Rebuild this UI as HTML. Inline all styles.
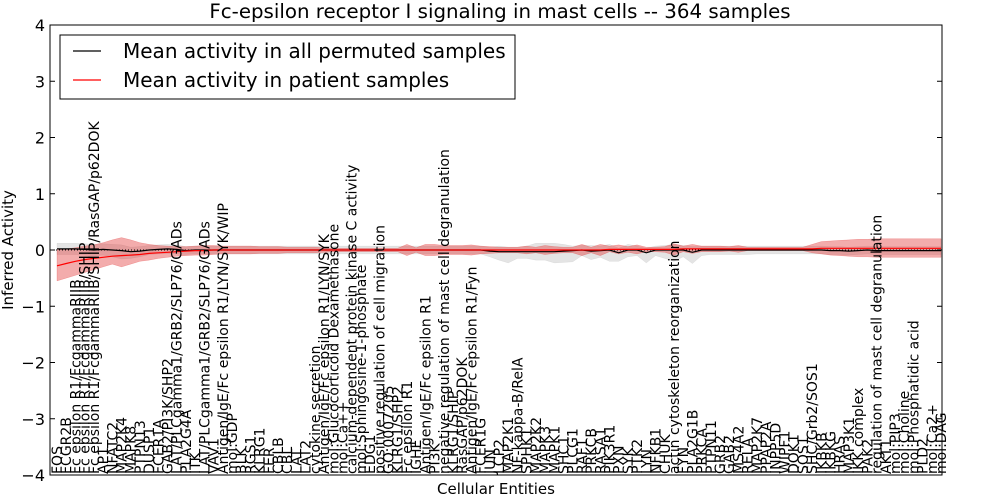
<!DOCTYPE html>
<html><head><meta charset="utf-8"><style>
body{margin:0;background:#fff;}
svg{display:block;font-family:"DejaVu Sans","Liberation Sans",sans-serif;}
</style></head><body>
<svg id="chart" width="1000" height="500">
<text x="500" y="18" text-anchor="middle" font-size="19.8">Fc-epsilon receptor I signaling in mast cells -- 364 samples</text>
<g id="bands"></g>
<g id="lines"></g>
<g id="axes"></g>
<rect x="50" y="25" width="892" height="450" fill="none" stroke="#000" stroke-width="1"/>
<text transform="translate(13,250) rotate(-90)" text-anchor="middle" font-size="15">Inferred Activity</text>
<text x="496" y="494" text-anchor="middle" font-size="15">Cellular Entities</text>
<g>
<rect x="60" y="35" width="455" height="64" fill="#fff" stroke="#000" stroke-width="1"/>
<line x1="73" y1="51" x2="101" y2="51" stroke="#000" stroke-width="1.2"/>
<text x="123" y="58" font-size="20">Mean activity in all permuted samples</text>
<line x1="73" y1="80" x2="101" y2="80" stroke="#f00" stroke-width="1.2"/>
<text x="123" y="87" font-size="20">Mean activity in patient samples</text>
</g>
</svg>
<script>
const categories=["FOS","FCGR2B","Fc epsilon R1/FcgammaRIIB","Fc epsilon R1/FcgammaRIIB/SHIP","Fc epsilon R1/FcgammaRIIB/SHIP/RasGAP/p62DOK","AP1","NFATC2","MAP2K4","MAPK8","PTPN13","DUSP1","FCER1A","GAB2/PI3K/SHP2","LAT/PLCgamma1/GRB2/SLP76/GADs","PLA2G4A","ITK","LAT/PLCgamma1/GRB2/SLP76/GADs","VAV1","Antigen/IgE/Fc epsilon R1/LYN/SYK/WIP","mol:GDP","BLK","RGS1","KLRG1","FER","CBLB","CBL","LAT","LAT2","cytokine secretion","Antigen/IgE/Fc epsilon R1/LYN/SYK","mol:Glucocorticoid Dexamethasone","mol:Ca++","calcium-dependent protein kinase C activity","mol:Sphingosine-1-phosphate","EDG1","positive regulation of cell migration","GO:0007205","KLRG1/SHP2","Fc epsilon R1","IGHE","Antigen/IgE/Fc epsilon R1","PI3K","negative regulation of mast cell degranulation","KLRG1/SHIP","RasGAP/p62DOK","Antigen/IgE/Fc epsilon R1/Fyn","FCER1G","JUN","LCP2","MAP2K1","NF-kappa-B/RelA","SPHK1","MAP2K2","MAPK3","MAPK1","SHC1","PLCG1","RAF1","PRKCB","RASA1","PIK3R1","PXN","SYK","PTK2","LYN","NFKB1","CHUK","actin cytoskeleton reorganization","FYN","PLA2G1B","PRKCA","PTPN11","GRB2","GAB2","MS4A2","RELA","MAP2K7","PPAP2A","INPP5D","WIPF1","DOK1","SOS1","SHC/Grb2/SOS1","IKBKB","IKBKG","HRAS","MAP3K1","IKK complex","PAK2","regulation of mast cell degranulation","AKT1","mol:PIP3","mol:Choline","mol:Phosphatidic acid","PLD2","mol:Ca2+","mol:DAG"];
const yTicks=[4,3,2,1,0,-1,-2,-3,-4];
const redMean=[-0.28,-0.24,-0.2,-0.17,-0.15,-0.13,-0.11,-0.1,-0.09,-0.08,
-0.06,-0.05,-0.04,-0.03,-0.02,-0.01,-0.01,0,0,0,
0,0,0,0,0,0,0,0,0,0,
0,0,0,0,0,0,0,0,0,0,
0,0,0,0,0,0,0,0,0,0,
0,0,0,0,0,0,0,0,0,0,
0.01,0.01,0.01,0.01,0.01,0.01,0.01,0.01,0.02,0.02,
0.02,0.02,0.02,0.02,0.02,0.02,0.02,0.02,0.02,0.02,
0.02,0.02,0.02,0.03,0.03,0.03,0.03,0.03,0.03,0.03,
0.03,0.03,0.03,0.03,0.03,0.03,0.03];
const redHi=[0.28,0.26,0.24,0.24,0.24,0.26,0.29,0.32,0.27,0.21,
0.16,0.13,0.11,0.09,0.08,0.08,0.09,0.08,0.07,0.07,
0.07,0.07,0.06,0.06,0.06,0.05,0.05,0.05,0.05,0.04,
0.03,0.03,0.03,0.03,0.03,0.03,0.03,0.03,0.1,0.04,
0.1,0.1,0.08,0.08,0.08,0.09,0.07,0.06,0.05,0.05,
0.05,0.07,0.05,0.08,0.06,0.05,0.05,0.1,0.05,0.1,
0.06,0.08,0.05,0.08,0.04,0.04,0.05,0.1,0.05,0.08,
0.05,0.05,0.05,0.04,0.06,0.03,0.03,0.03,0.03,0.03,
0.03,0.03,0.08,0.12,0.13,0.14,0.15,0.16,0.16,0.17,
0.17,0.17,0.17,0.17,0.17,0.17,0.17];
const redLo=[-0.27,-0.26,-0.25,-0.23,-0.2,-0.17,-0.14,-0.2,-0.16,-0.12,
-0.12,-0.1,-0.09,-0.08,-0.08,-0.08,-0.08,-0.08,-0.07,-0.07,
-0.07,-0.07,-0.06,-0.06,-0.06,-0.05,-0.05,-0.05,-0.05,-0.04,
-0.03,-0.03,-0.03,-0.03,-0.03,-0.03,-0.03,-0.03,-0.1,-0.04,
-0.1,-0.1,-0.08,-0.08,-0.08,-0.09,-0.07,-0.06,-0.05,-0.05,
-0.05,-0.07,-0.05,-0.08,-0.06,-0.05,-0.05,-0.1,-0.05,-0.1,
-0.04,-0.08,-0.05,-0.08,-0.04,-0.04,-0.05,-0.1,-0.05,-0.08,
-0.05,-0.05,-0.05,-0.04,-0.06,-0.03,-0.03,-0.03,-0.03,-0.03,
-0.03,-0.03,-0.07,-0.1,-0.12,-0.13,-0.14,-0.15,-0.15,-0.16,
-0.16,-0.16,-0.16,-0.16,-0.16,-0.16,-0.16];
const blackMean=[0.02,0.02,0.02,0.01,0,0.01,0,-0.01,-0.03,-0.02,
0,0.01,0.02,0.01,-0.01,0,0,0,0,0,
0,0,0,0,0,0,0,0,0,0,
0,0,0,0,0,0,0,0,0,0,
0,0,0,0,0,0,0,-0.02,-0.03,-0.03,
-0.03,-0.03,-0.03,-0.03,-0.03,-0.02,-0.01,0,-0.02,-0.01,
0,-0.05,0,0,-0.05,0,0,0,0,-0.04,
0,0,0,0,0,0,0,0,0,0,
0,0,0,0,-0.01,-0.01,-0.02,-0.01,0,-0.01,
-0.01,-0.01,-0.01,-0.01,-0.01,-0.01,-0.01];
const greyHi=[0.1,0.1,0.1,0.1,0.1,0.1,0.1,0.1,0.08,0.08,
0.08,0.08,0.08,0.08,0.07,0.07,0.07,0.07,0.07,0.07,
0.07,0.07,0.07,0.07,0.07,0.07,0.07,0.07,0.07,0.07,
0.07,0.07,0.07,0.07,0.07,0.07,0.07,0.07,0.07,0.07,
0.07,0.07,0.07,0.07,0.07,0.07,0.07,0.07,0.1,0.08,
0.08,0.1,0.15,0.15,0.15,0.12,0.08,0.08,0.1,0.08,
0.1,0.08,0.1,0.07,0.08,0.07,0.08,0.1,0.08,0.1,
0.07,0.07,0.07,0.07,0.07,0.07,0.07,0.07,0.07,0.07,
0.07,0.07,0.07,0.07,0.07,0.07,0.07,0.07,0.07,0.07,
0.07,0.07,0.07,0.07,0.07,0.07,0.07];
const greyLo=[-0.1,-0.1,-0.1,-0.1,-0.1,-0.1,-0.12,-0.15,-0.12,-0.1,
-0.08,-0.08,-0.08,-0.08,-0.07,-0.07,-0.07,-0.07,-0.07,-0.07,
-0.07,-0.07,-0.07,-0.07,-0.07,-0.07,-0.07,-0.07,-0.07,-0.07,
-0.07,-0.07,-0.07,-0.07,-0.07,-0.07,-0.07,-0.07,-0.07,-0.07,
-0.07,-0.07,-0.07,-0.07,-0.07,-0.07,-0.07,-0.1,-0.15,-0.2,
-0.12,-0.12,-0.15,-0.15,-0.2,-0.2,-0.2,-0.1,-0.15,-0.12,
-0.2,-0.15,-0.12,-0.1,-0.18,-0.1,-0.15,-0.2,-0.12,-0.2,
-0.1,-0.08,-0.08,-0.08,-0.08,-0.08,-0.07,-0.07,-0.07,-0.07,
-0.07,-0.07,-0.07,-0.07,-0.07,-0.07,-0.07,-0.07,-0.07,-0.07,
-0.07,-0.07,-0.07,-0.07,-0.07,-0.07,-0.07];

const NS='http://www.w3.org/2000/svg';
const n=categories.length;
function xs(i){return 57+i*(884/(n-1));}
function ys(v){return 250-v*56.25;}
function mk(tag,attrs,parent){const e=document.createElementNS(NS,tag);for(const k in attrs)e.setAttribute(k,attrs[k]);parent.appendChild(e);return e;}
function band(lo,hi,fill,op,parent,name){
  let d='';
  for(let i=0;i<n;i++)d+=(i?'L':'M')+xs(i).toFixed(1)+','+ys(hi[i]).toFixed(1);
  for(let i=n-1;i>=0;i--)d+='L'+xs(i).toFixed(1)+','+ys(lo[i]).toFixed(1);
  const p=mk('path',{d:d+'Z',fill:fill,'fill-opacity':op,stroke:fill,'stroke-opacity':op,'stroke-width':0.5},parent);
  
  
}
function line(vals,color,parent,name,dash){
  let d='';
  for(let i=0;i<n;i++)d+=(i?'L':'M')+xs(i).toFixed(1)+','+ys(vals[i]).toFixed(1);
  const p=mk('path',{d:d,fill:'none',stroke:color,'stroke-width':1.2},parent);
  if(dash)p.setAttribute('stroke-dasharray',dash);
  
  
}
const bands=document.getElementById('bands'),lines=document.getElementById('lines'),axes=document.getElementById('axes');
band(greyLo.map((v,i)=>blackMean[i]+v),greyHi.map((v,i)=>blackMean[i]+v),'#bbbbbb',0.4,bands,'permuted-band');
band(redLo.map((v,i)=>redMean[i]+v),redHi.map((v,i)=>redMean[i]+v),'#e03030',0.4,bands,'patient-band');
const zl=mk('line',{x1:50,x2:942,y1:ys(0),y2:ys(0),stroke:'#000','stroke-width':1,'stroke-dasharray':'1,2'},lines);


line(blackMean,'#000',lines,'permuted-mean-line');
line(redMean,'#ff0000',lines,'patient-mean-line');
yTicks.forEach(t=>{
  const tk=mk('line',{x1:50,x2:55,y1:ys(t),y2:ys(t),stroke:'#000'},axes);
  
  
  const tk2=mk('line',{x1:937,x2:942,y1:ys(t),y2:ys(t),stroke:'#000'},axes);
  
  
  const lb=mk('text',{x:45,y:ys(t)+6,'text-anchor':'end','font-size':16},axes);
  lb.textContent=(t<0?'\u2212'+(-t):t);
  
  
});
categories.forEach((c,i)=>{
  const x=xs(i)+5;
  const lb=mk('text',{transform:'translate('+x.toFixed(1)+',474) rotate(-90)','font-size':14},axes);
  lb.textContent=c;
  
  
});
</script>
</body></html>
